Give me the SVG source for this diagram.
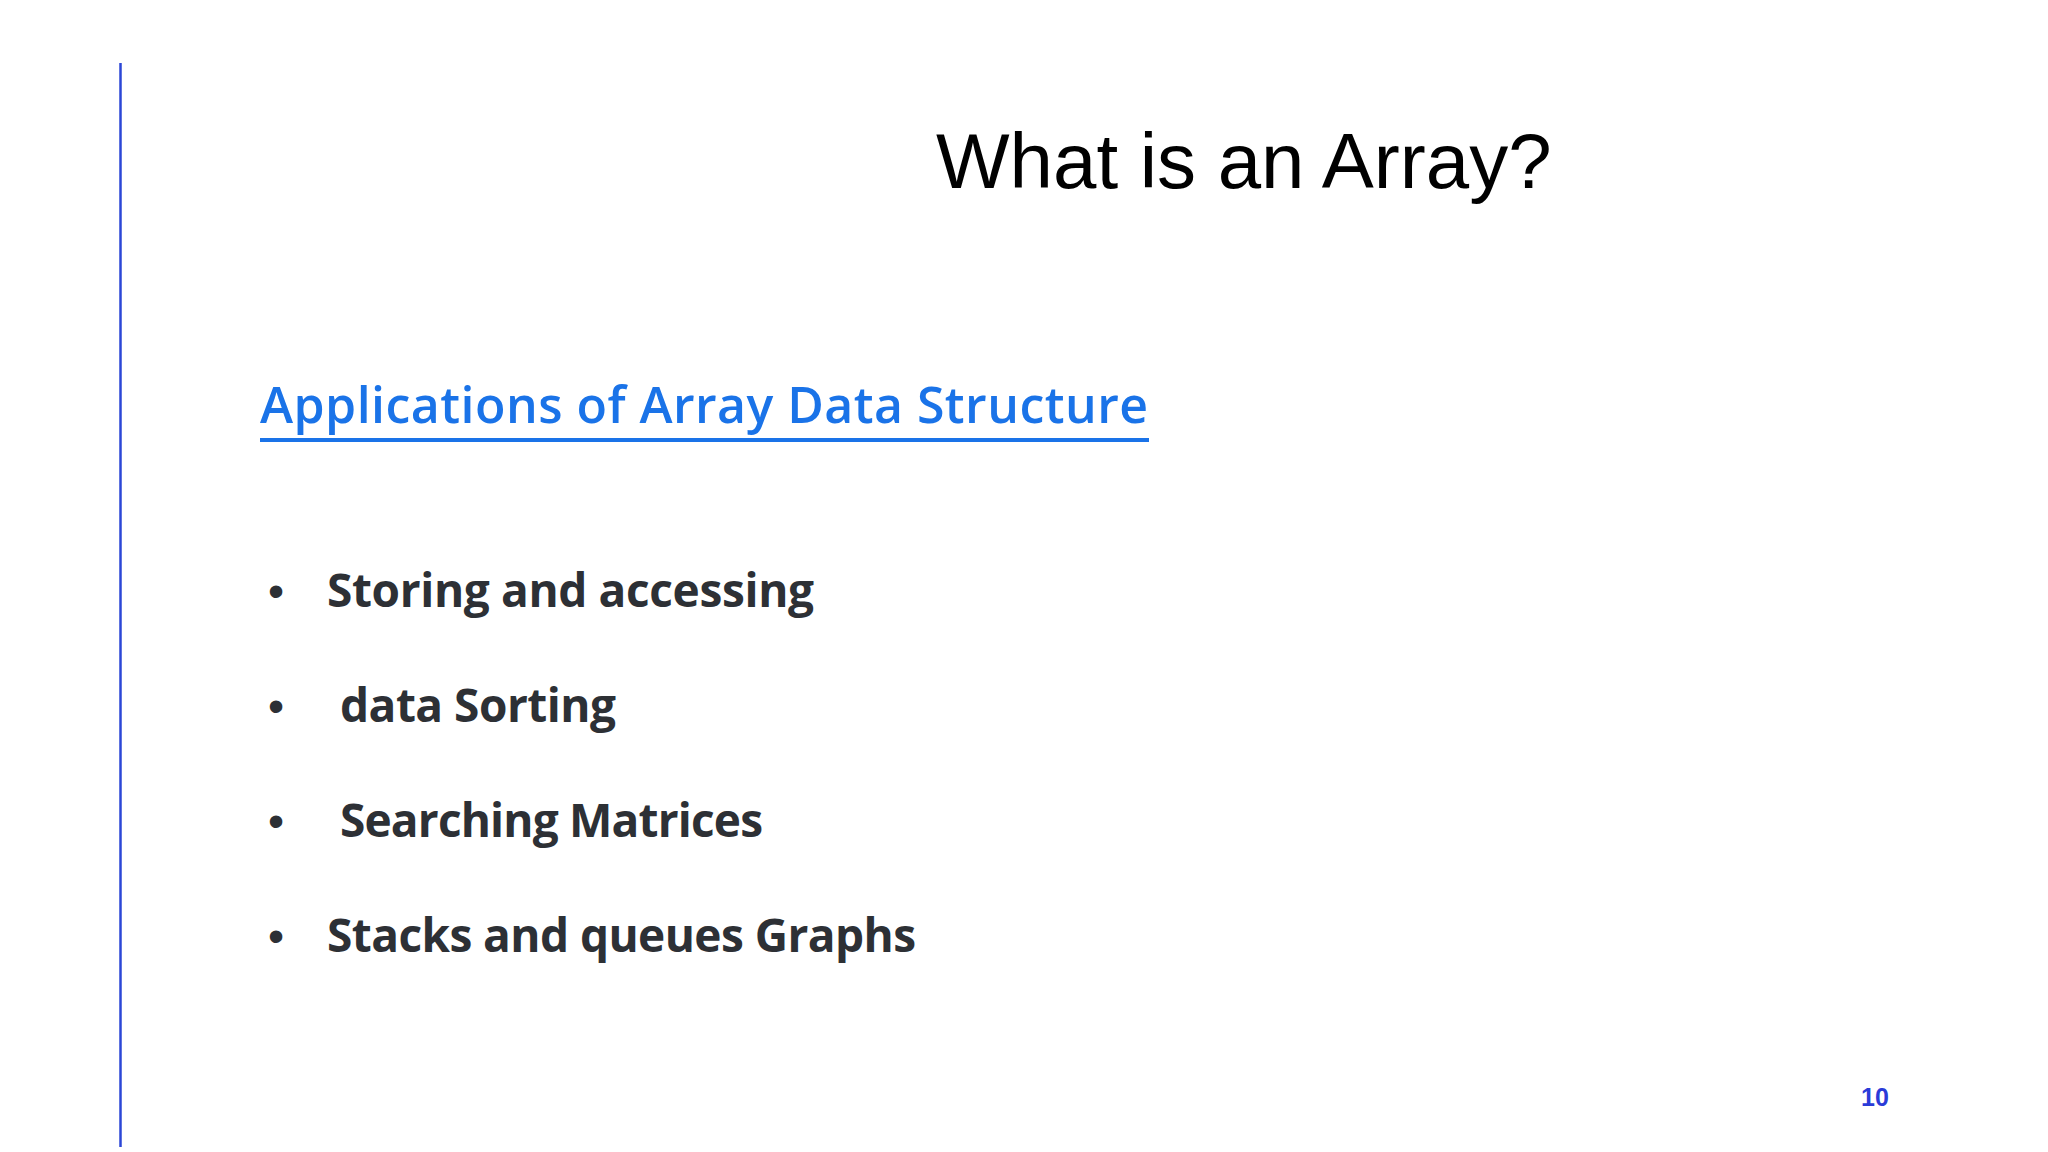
<svg xmlns="http://www.w3.org/2000/svg" width="2048" height="1152" viewBox="0 0 2048 1152">
<style>
.b{font-family:"Open Sans","Noto Sans",sans-serif;font-weight:700;font-size:46px;fill:#2d3035}
.d{font-family:"Liberation Sans",sans-serif;font-size:46px;fill:#2d3035}
</style>
<rect width="2048" height="1152" fill="#fff"/>
<line x1="120.5" y1="63" x2="120.5" y2="1147" stroke="#2b46d6" stroke-width="2.5"/>
<text x="936" y="188" font-family="Liberation Sans, sans-serif" font-size="78" fill="#000">What is an Array?</text>
<g id="heading">
<text x="260" y="423" font-family="Open Sans, sans-serif" font-weight="600" font-size="50" fill="#1a73e8" textLength="888">Applications of Array Data Structure</text>
<rect x="260" y="438" width="889" height="4" fill="#1a73e8"/>
</g>
<g id="list">
<text class="d" x="268" y="607">•</text><text class="b" x="327" y="607" textLength="487">Storing and accessing</text>
<text class="d" x="268" y="722">•</text><text class="b" x="340" y="722" textLength="276">data Sorting</text>
<text class="d" x="268" y="837">•</text><text class="b" x="340" y="837" textLength="423">Searching Matrices</text>
<text class="d" x="268" y="952">•</text><text class="b" x="327" y="952" textLength="589">Stacks and queues Graphs</text>
</g>
<text x="1861" y="1106" font-family="Liberation Sans, sans-serif" font-weight="700" font-size="25" fill="#2a3bd8">10</text>
</svg>
